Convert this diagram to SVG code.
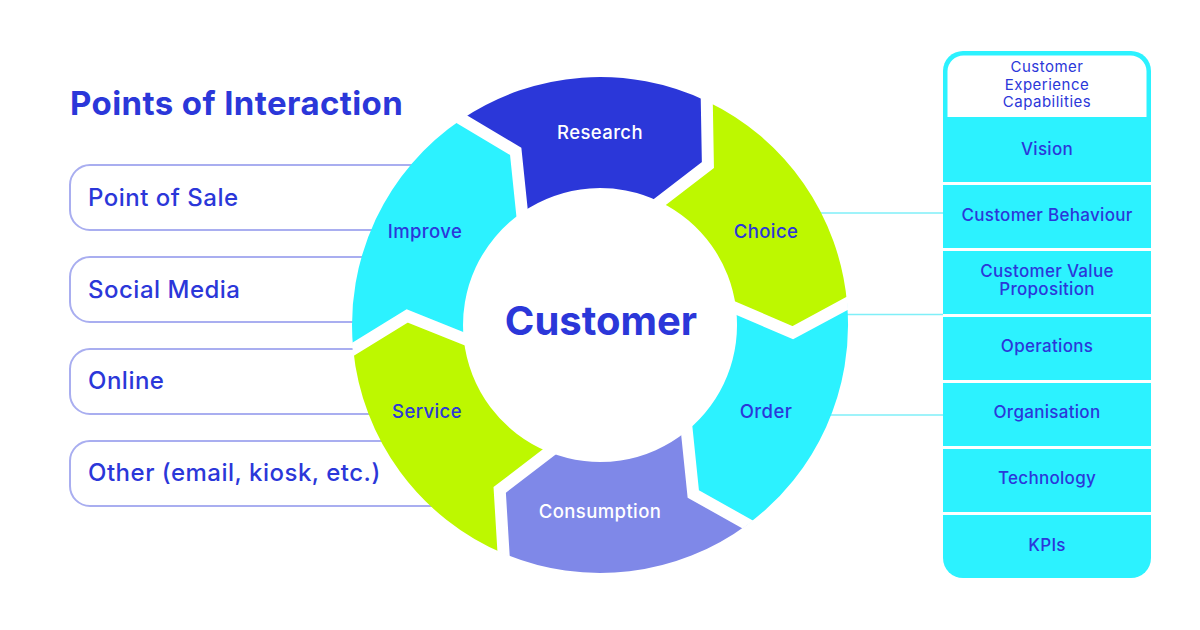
<svg xmlns="http://www.w3.org/2000/svg" width="1200" height="630" viewBox="0 0 1200 630">
<style>
  .t { font-family: Inter, "Liberation Sans", sans-serif; fill: #2B37D9; }
  .box { fill: #FFFFFF; stroke: #A9AEF0; stroke-width: 2; }
  .boxlabel { font-size: 24px; font-weight: 500; letter-spacing: 0.5px; }
  .seglabel { font-size: 18.5px; font-weight: 500; text-anchor: middle; letter-spacing: 0.4px; }
  .white { fill: #FFFFFF; }
  .cyan { fill: #2CF2FF; }
  .lime { fill: #BDF800; }
  .blue { fill: #2B37D9; }
  .peri { fill: #7F88E8; }
  .conn { stroke: #7FEFF8; stroke-width: 1.5; fill: none; }
  .gap { stroke: #FFFFFF; stroke-width: 12; fill: none; stroke-linejoin: miter; stroke-miterlimit: 10; }
  .row { font-size: 17px; font-weight: 500; text-anchor: middle; letter-spacing: 0.3px; }
  .hdr { font-size: 15px; text-anchor: middle; letter-spacing: 0.5px; }
  .sep { stroke: #FFFFFF; stroke-width: 3; }
</style>
<defs>
  <clipPath id="ringclip"><circle cx="600" cy="325" r="248.6"/></clipPath>
</defs>
<rect width="1200" height="630" fill="#FFFFFF"/>

<text class="t" x="70" y="115" font-size="33" font-weight="700" letter-spacing="0.4">Points of Interaction</text>

<g id="poi-boxes">
  <g id="box-pos"><rect class="box" x="70" y="165" width="385" height="65" rx="20"/><text class="t boxlabel" x="88" y="206">Point of Sale</text></g>
  <g id="box-social"><rect class="box" x="70" y="257" width="385" height="65" rx="20"/><text class="t boxlabel" x="88" y="298">Social Media</text></g>
  <g id="box-online"><rect class="box" x="70" y="349" width="385" height="65" rx="20"/><text class="t boxlabel" x="88" y="389">Online</text></g>
  <g id="box-other"><rect class="box" x="70" y="441" width="385" height="65" rx="20"/><text class="t boxlabel" x="88" y="481">Other (email, kiosk, etc.)</text></g>
</g>

<g id="connectors">
  <line class="conn" x1="800" y1="213" x2="944" y2="213"/>
  <line class="conn" x1="820" y1="314.5" x2="944" y2="314.5"/>
  <line class="conn" x1="800" y1="415" x2="944" y2="415"/>
</g>

<g id="cycle">
  <g id="seg-research"><path class="blue" d="M461.7,119.2 A248,248 0 0 1 706.8,101.2 L707.9,165.0 L660.1,201.9 A137,137 0 0 0 522.0,212.4 L515.7,151.4 Z"/><text class="t seglabel" x="600" y="139" style="fill:#FFFFFF">Research</text></g>
  <g id="seg-choice"><path class="lime" d="M706.8,101.2 A248,248 0 0 1 847.1,303.4 L792.8,332.7 L736.0,308.3 A137,137 0 0 0 660.1,201.9 L707.9,165.0 Z"/><text class="t seglabel" x="766" y="238">Choice</text></g>
  <g id="seg-order"><path class="cyan" d="M847.1,303.4 A248,248 0 0 1 747.5,524.4 L693.3,494.0 L686.8,431.0 A137,137 0 0 0 736.0,308.3 L792.8,332.7 Z"/><text class="t seglabel" x="766" y="418">Order</text></g>
  <g id="seg-consumption"><path class="peri" d="M747.5,524.4 A248,248 0 0 1 503.5,553.5 L499.7,489.9 L548.9,452.1 A137,137 0 0 0 686.8,431.0 L693.3,494.0 Z"/><text class="t seglabel" x="600" y="518" style="fill:#FFFFFF">Consumption</text></g>
  <g id="seg-service"><path class="lime" d="M503.5,553.5 A248,248 0 0 1 353.2,349.2 L407.2,315.9 L463.7,338.6 A137,137 0 0 0 548.9,452.1 L499.7,489.9 Z"/><text class="t seglabel" x="427" y="418">Service</text></g>
  <g id="seg-improve"><path class="cyan" d="M353.2,349.2 A248,248 0 0 1 461.7,119.2 L515.7,151.4 L522.0,212.4 A137,137 0 0 0 463.7,338.6 L407.2,315.9 Z"/><text class="t seglabel" x="425" y="238">Improve</text></g>
  <g id="gaps" clip-path="url(#ringclip)">
    <polyline class="gap" points="448.2,111.2 515.7,151.4 523.6,227.7"/>
    <polyline class="gap" points="706.5,85.3 707.9,165.0 648.1,211.1"/>
    <polyline class="gap" points="860.7,296.1 792.8,332.7 721.8,302.2"/>
    <polyline class="gap" points="761.1,532.0 693.3,494.0 685.2,415.3"/>
    <polyline class="gap" points="504.5,569.4 499.7,489.9 561.2,442.7"/>
    <polyline class="gap" points="339.7,357.5 407.2,315.9 477.8,344.3"/>
  </g>
  <g id="center"><text class="t" x="601" y="335" font-size="40" font-weight="700" text-anchor="middle">Customer</text></g>
</g>

<g id="capabilities">
  <rect class="cyan" x="943" y="51" width="208" height="527" rx="20"/>
  <path class="white" d="M947.5,117 V71 A16,16 0 0 1 963.5,55.5 H1130.5 A16,16 0 0 1 1146.5,71 V117 Z"/>
  <g id="cap-header">
    <text class="t hdr" x="1047" y="71.5">Customer</text>
    <text class="t hdr" x="1047" y="89.5">Experience</text>
    <text class="t hdr" x="1047" y="107">Capabilities</text>
  </g>
  <g id="cap-separators">
    <line class="sep" x1="943" y1="183.5" x2="1151" y2="183.5"/>
    <line class="sep" x1="943" y1="249.5" x2="1151" y2="249.5"/>
    <line class="sep" x1="943" y1="315.5" x2="1151" y2="315.5"/>
    <line class="sep" x1="943" y1="381.5" x2="1151" y2="381.5"/>
    <line class="sep" x1="943" y1="447.5" x2="1151" y2="447.5"/>
    <line class="sep" x1="943" y1="513.5" x2="1151" y2="513.5"/>
  </g>
  <g id="cap-vision"><text class="t row" x="1047" y="155">Vision</text></g>
  <g id="cap-behaviour"><text class="t row" x="1047" y="221">Customer Behaviour</text></g>
  <g id="cap-cvp"><text class="t row" x="1047" y="277">Customer Value</text><text class="t row" x="1047" y="295">Proposition</text></g>
  <g id="cap-operations"><text class="t row" x="1047" y="352">Operations</text></g>
  <g id="cap-organisation"><text class="t row" x="1047" y="418">Organisation</text></g>
  <g id="cap-technology"><text class="t row" x="1047" y="484">Technology</text></g>
  <g id="cap-kpis"><text class="t row" x="1047" y="551">KPIs</text></g>
</g>
</svg>
